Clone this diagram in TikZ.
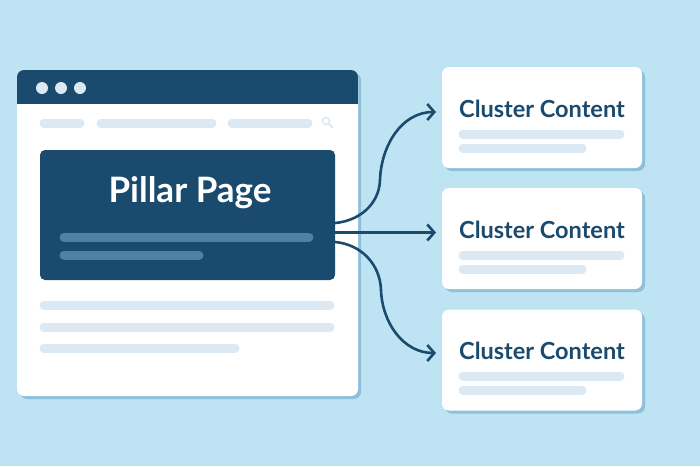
\documentclass[tikz,border=0pt]{standalone}
\usepackage{fontspec}
\setmainfont{Lato}
\usetikzlibrary{arrows.meta,shadows}
\definecolor{bg}{HTML}{BEE3F3}
\definecolor{navy}{HTML}{1A4A6E}
\definecolor{shade}{HTML}{8EC0DB}
\definecolor{barl}{HTML}{DCE8F2}
\definecolor{barp}{HTML}{4F80A5}
\tikzset{
  card/.style={fill=white, rounded corners=7pt, inner sep=0pt,
    drop shadow={shadow xshift=3pt, shadow yshift=-3pt, fill=shade, opacity=1}},
  pillarbox/.style={fill=navy, rounded corners=5pt, inner sep=0pt},
  lbar/.style={line width=9pt, line cap=round, draw=barl},
  pbar/.style={line width=9pt, line cap=round, draw=barp},
  dotc/.style={circle, fill=barl, minimum size=12pt, inner sep=0pt},
  link/.style={draw=navy, line width=2.6pt,
    -{Straight Barb[length=7pt,width=16pt,line width=2.6pt]}},
  ctitle/.style={text=navy, font=\bfseries\fontsize{23.5}{26}\selectfont, anchor=base},
}
\begin{document}
\begin{tikzpicture}[x=1pt,y=-1pt]
\fill[bg] (0,0) rectangle (700,466);
\useasboundingbox (0,0) rectangle (700,466);
% browser window
\node[card, minimum width=341pt, minimum height=326pt] (win) at (187.5,233) {};
\begin{scope}
  \clip[rounded corners=7pt] (17,70) rectangle (358,396);
  \fill[navy] (17,70) rectangle (358,104);
\end{scope}
\node[dotc] (d1) at (42,88) {};
\node[dotc] (d2) at (61,88) {};
\node[dotc] (d3) at (80,88) {};
\draw[lbar] (44,123) -- (80,123);
\draw[lbar] (101,123) -- (212,123);
\draw[lbar] (232,123) -- (308,123);
\node[circle, draw=barl, line width=1.6pt, minimum size=7pt, inner sep=0pt] (srch) at (326,121) {};
\draw[barl, line width=1.8pt, line cap=round] (srch.south east) -- ++(3.5,3.5);
% pillar
\node[pillarbox, minimum width=295pt, minimum height=130pt] (pillar) at (187.5,215) {};
\node[text=white, font=\bfseries\fontsize{35}{38}\selectfont, anchor=base] (ptitle) at (190,202) {Pillar Page};
\draw[pbar] (64,237) -- (309,237);
\draw[pbar] (64,255) -- (199,255);
\draw[lbar] (44,305) -- (330,305);
\draw[lbar] (44,327) -- (330,327);
\draw[lbar] (44,348) -- (235,348);
% clusters
\foreach \i/\y in {1/117.5, 2/238.5, 3/360} {
  \node[card, minimum width=200pt, minimum height=101pt] (c\i) at (542,\y) {};
  \node[ctitle] (t\i) at (542,\y-0.5) {Cluster Content};
  \draw[lbar] (463,\y+16.5) -- (620,\y+16.5);
  \draw[lbar] (463,\y+30.5) -- (582,\y+30.5);
}
\coordinate (s1) at (335,223);
\coordinate (s2) at (335,232.5);
\coordinate (s3) at (335,242);
\coordinate (e1) at (436,112);
\coordinate (e2) at (436,232.5);
\coordinate (e3) at (436,353);
\draw[link] (s1) to[out=5,in=-92] (380,180) to[out=88,in=180] (e1);
\draw[link] (s2) -- (e2);
\draw[link] (s3) to[out=-5,in=92] (381,290) to[out=-88,in=180] (e3);
\end{tikzpicture}
\end{document}
